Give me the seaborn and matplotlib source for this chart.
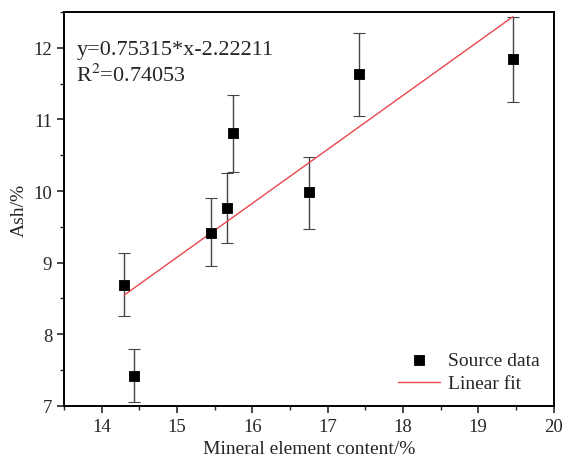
import matplotlib
matplotlib.use("Agg")
import matplotlib.pyplot as plt
import numpy as np
import pandas as pd
import seaborn as sns
from matplotlib.ticker import MultipleLocator

# data
mineral = [14.30, 14.43, 15.45, 15.67, 15.75, 16.75, 17.42, 19.46]
ash = [8.69, 7.42, 9.42, 9.77, 10.81, 9.98, 11.64, 11.84]
err_lo = [0.43, 0.36, 0.47, 0.49, 0.55, 0.51, 0.59, 0.59]
err_hi = [0.44, 0.37, 0.48, 0.48, 0.53, 0.49, 0.57, 0.59]
slope = 0.75315
intercept = -2.22211
r2 = 0.74053

df = pd.DataFrame({"mineral": mineral, "ash": ash})
fit_x = np.array([min(mineral), max(mineral)])
fit_df = pd.DataFrame({"x": fit_x, "y": slope * fit_x + intercept})

sns.set_style("ticks")
plt.rcParams["font.family"] = ["Liberation Serif", "DejaVu Serif"]
plt.rcParams["mathtext.fontset"] = "stix"

fig = plt.figure(figsize=(5.64, 4.64), dpi=100)
ax = fig.add_axes([0.1135, 0.123, 0.868, 0.849])

ax.errorbar(
    df["mineral"], df["ash"],
    yerr=[err_lo, err_hi],
    fmt="none",
    ecolor="#444444",
    elinewidth=1.0,
    capsize=4,
    capthick=0.8,
    zorder=2,
)

sns.scatterplot(
    data=df, x="mineral", y="ash",
    marker="s", s=60, color="black", edgecolor="black",
    label="Source data", ax=ax, zorder=3,
)

sns.lineplot(
    data=fit_df, x="x", y="y",
    color="#e8474a", linewidth=1.0,
    label="Linear fit", ax=ax, zorder=2,
)

ax.set_xlim(13.5, 20)
ax.set_ylim(7, 12.5)
ax.xaxis.set_major_locator(MultipleLocator(1))
ax.xaxis.set_minor_locator(MultipleLocator(0.5))
ax.yaxis.set_major_locator(MultipleLocator(1))
ax.yaxis.set_minor_locator(MultipleLocator(0.5))
ax.tick_params(which="major", direction="out", length=5, width=1.2, labelsize=13.5)
ax.tick_params(which="minor", direction="out", length=3, width=1.0)

for spine in ax.spines.values():
    spine.set_visible(True)
    spine.set_linewidth(1.4)
    spine.set_color("black")

ax.set_xlabel("Mineral element content/%", fontsize=14)
ax.set_ylabel("Ash/%", fontsize=14)

ax.text(0.025, 0.905, f"y={slope}*x{intercept}",
        transform=ax.transAxes, fontsize=16, va="center", ha="left")
ax.text(0.025, 0.84, f"R$^2$={r2}",
        transform=ax.transAxes, fontsize=16, va="center", ha="left")

ax.legend(
    loc="lower right", frameon=False, fontsize=14,
    handlelength=2.2, handletextpad=0.4, borderaxespad=0.3,
    labelspacing=0.3, bbox_to_anchor=(1.0, 0.0),
)

fig.savefig("out.png", dpi=100)
